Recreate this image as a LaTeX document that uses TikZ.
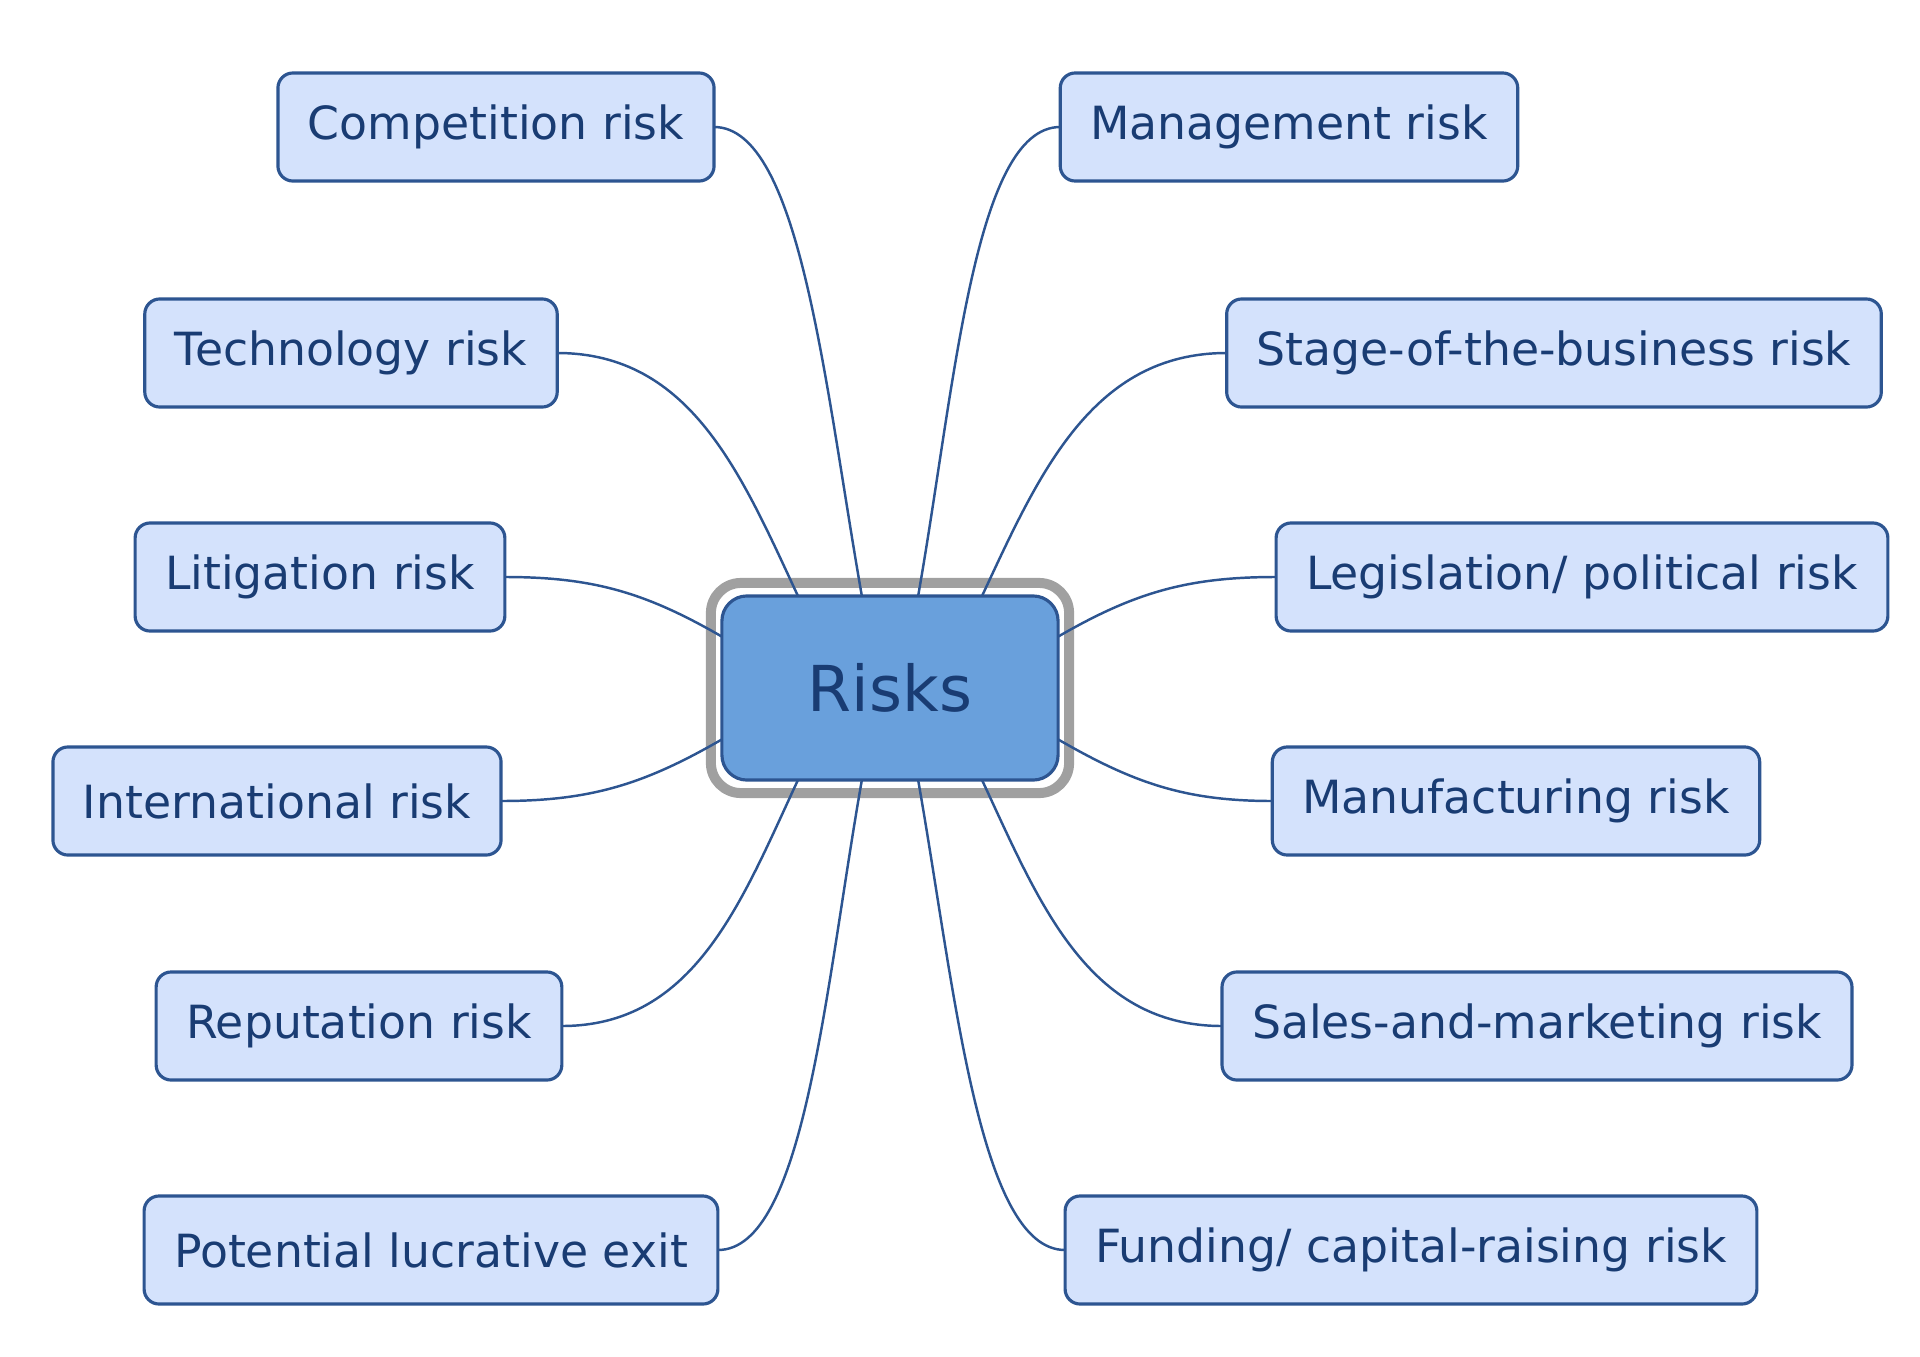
\documentclass[tikz,border=0pt]{standalone}
\usepackage{fontspec}
\setmainfont{DejaVu Sans}
\usepackage{tikz}
\definecolor{riskline}{RGB}{45,85,145}
\definecolor{risktext}{RGB}{25,60,115}
\definecolor{riskfill}{RGB}{212,226,252}
\definecolor{hubfill}{RGB}{105,160,220}
\definecolor{hubframe}{RGB}{160,160,160}
\tikzset{
  riskbox/.style={draw=riskline,fill=riskfill,text=risktext,line width=0.9pt,rounded corners=0.15cm,
    minimum height=1.08cm,inner xsep=0.3cm,outer sep=0pt,font=\fontsize{13}{15}\selectfont},
  hub/.style={draw=riskline,fill=hubfill,text=risktext,line width=0.9pt,rounded corners=0.25cm,
    minimum width=3.36cm,minimum height=1.84cm,outer sep=0pt,font=\fontsize{18}{22}\selectfont},
  hubring/.style={draw=hubframe,line width=0.1cm,rounded corners=0.3cm,
    minimum width=3.58cm,minimum height=2.10cm,outer sep=0pt},
  link/.style={draw=riskline,line width=0.7pt}
}

\begin{document}
\begin{tikzpicture}[x=0.01cm,y=-0.01cm]
  \useasboundingbox (0,0) rectangle (1920,1357);
  \node [hubring] (ring) at (890,688) {};
  \node [hub] (risks) at (890,688) {Risks};

  % left side
  \node [riskbox] (competition) at (496,127) {Competition risk};
  \node [riskbox] (technology) at (351,353) {Technology risk};
  \node [riskbox] (litigation) at (320,577) {Litigation risk};
  \node [riskbox] (international) at (277,801) {International risk};
  \node [riskbox] (reputation) at (359,1026) {Reputation risk};
  \node [riskbox] (exit) at (431,1250) {Potential lucrative exit};

  % right side
  \node [riskbox] (management) at (1289,127) {Management risk};
  \node [riskbox] (stage) at (1554,353) {Stage-of-the-business risk};
  \node [riskbox] (legislation) at (1582,577) {Legislation/ political risk};
  \node [riskbox] (manufacturing) at (1516,801) {Manufacturing risk};
  \node [riskbox] (sales) at (1537,1026) {Sales-and-marketing risk};
  \node [riskbox] (funding) at (1411,1250) {Funding/ capital-raising risk};

  \draw [link] (competition.east) to [out=0,in=100,out looseness=0.45,in looseness=1.1] (risks.107);
  \draw [link] (technology.east) to [out=0,in=115] (risks.135);
  \draw [link] (litigation.east) to [out=0,in=150] (risks.163);
  \draw [link] (international.east) to [out=0,in=210] (risks.197);
  \draw [link] (reputation.east) to [out=0,in=245] (risks.225);
  \draw [link] (exit.east) to [out=0,in=260,out looseness=0.45,in looseness=1.1] (risks.253);

  \draw [link] (management.west) to [out=180,in=80,out looseness=0.45,in looseness=1.1] (risks.73);
  \draw [link] (stage.west) to [out=180,in=65] (risks.45);
  \draw [link] (legislation.west) to [out=180,in=30] (risks.17);
  \draw [link] (manufacturing.west) to [out=180,in=-30] (risks.-17);
  \draw [link] (sales.west) to [out=180,in=-65] (risks.-45);
  \draw [link] (funding.west) to [out=180,in=-80,out looseness=0.45,in looseness=1.1] (risks.-73);
\end{tikzpicture}
\end{document}
